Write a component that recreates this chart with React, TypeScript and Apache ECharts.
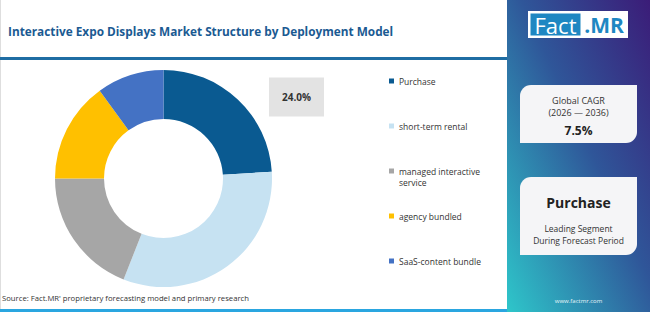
import React, { useEffect, useRef } from "react";
import * as echarts from "echarts";

// Deployment-model shares (%) of the interactive expo displays market
const segments = [
  "Purchase",
  "short-term rental",
  "managed interactive service",
  "agency bundled",
  "SaaS-content bundle",
];
const shares = [24.0, 32.0, 19.0, 15.0, 10.0];
const segmentColors = ["#0a5a91", "#c6e2f2", "#a6a6a6", "#ffc000", "#4472c4"];

// Legend text shown for each segment; the long name wraps below its marker
const legendText: Record<string, string> = {
  "managed interactive service": "\nmanaged interactive\nservice",
};
const legendCenters = [81, 126, 171, 216, 261];

const titleText = "Interactive Expo Displays Market Structure by Deployment Model";
const sourceText = "Source: Fact.MR' proprietary forecasting model and primary research";
const cagrLabel = ["Global CAGR", "(2026 \u2014 2036)"];
const cagrValue = "7.5%";
const leadingSegment = "Purchase";
const leadingCaption = ["Leading Segment", "During Forecast Period"];
const siteText = "www.factmr.com";

const FONT = "'Open Sans', 'Noto Sans', sans-serif";

export default function App() {
  const ref = useRef<HTMLDivElement>(null);

  useEffect(() => {
    if (!ref.current) return;
    const chart = echarts.init(ref.current, undefined, { renderer: "svg" });

    // one legend block per segment so each marker sits on its own row
    const legends = segments.map((name, i) => {
      const multi = legendText[name] !== undefined;
      return {
        left: 389,
        top: multi ? legendCenters[i] - 16.5 : legendCenters[i] - 5.5,
        orient: "vertical",
        padding: 0,
        itemWidth: 5,
        itemHeight: 5,
        icon: "rect",
        selectedMode: false,
        data: [name],
        formatter: (n: string) => legendText[n] ?? n,
        textStyle: {
          fontSize: 8.5,
          color: "#333",
          fontFamily: FONT,
          lineHeight: 11,
        },
      };
    });

    const cx = 578.5;

    chart.setOption({
      animation: false,
      legend: legends,
      series: [
        {
          type: "pie",
          center: [163.5, 178.5],
          radius: [59.5, 108.5],
          startAngle: 90,
          clockwise: true,
          avoidLabelOverlap: false,
          silent: true,
          emphasis: { disabled: true },
          data: segments.map((name, i) => ({
            name,
            value: shares[i],
            itemStyle: { color: segmentColors[i] },
            label: { show: i === 0 },
          })),
          label: {
            show: true,
            position: "outside",
            formatter: (p: any) => `${Number(p.value).toFixed(1)}%`,
            backgroundColor: "#e3e3e3",
            padding: [14, 13],
            fontSize: 10,
            lineHeight: 11,
            fontWeight: "bold",
            color: "#333",
            fontFamily: FONT,
          },
          labelLine: { show: false },
          labelLayout: () => ({ x: 296.5, y: 97, align: "center", verticalAlign: "middle" }),
        },
      ],
      graphic: [
        // frame lines
        { type: "rect", shape: { x: 0, y: 0, width: 1, height: 312 }, style: { fill: "#dedede" }, silent: true },
        { type: "rect", shape: { x: 0, y: 57, width: 507, height: 3 }, style: { fill: "#1f6da3" }, silent: true },
        { type: "rect", shape: { x: 0, y: 309, width: 507, height: 3 }, style: { fill: "#2aa6e0" }, silent: true },
        {
          type: "text",
          x: 8,
          y: 31,
          style: {
            text: titleText,
            fill: "#1b5a92",
            font: `bold 11.8px ${FONT}`,
            textVerticalAlign: "middle",
          },
        },
        {
          type: "text",
          x: 2,
          y: 298,
          style: {
            text: sourceText,
            fill: "#333",
            font: `7.7px ${FONT}`,
            textVerticalAlign: "middle",
          },
        },
        // side panel
        {
          type: "rect",
          shape: { x: 507, y: 0, width: 143, height: 312 },
          style: {
            fill: new echarts.graphic.LinearGradient(1, 0, 0, 1, [
              { offset: 0, color: "#3b1c78" },
              { offset: 0.45, color: "#2f5699" },
              { offset: 1, color: "#2ec6ca" },
            ]),
          },
          silent: true,
        },
        // logo
        { type: "rect", shape: { x: 528, y: 11, width: 100, height: 27 }, style: { fill: "#ffffff" } },
        { type: "rect", shape: { x: 530.5, y: 13.5, width: 50, height: 22 }, style: { fill: "#1e87c2" } },
        {
          type: "text",
          x: 555.5,
          y: 24.5,
          style: { text: "Fact", fill: "#ffffff", font: `22px ${FONT}`, textAlign: "center", textVerticalAlign: "middle" },
        },
        {
          type: "text",
          x: 604,
          y: 24.5,
          style: { text: ".MR", fill: "#1e87c2", font: `bold 21px ${FONT}`, textAlign: "center", textVerticalAlign: "middle" },
        },
        // CAGR card
        { type: "rect", shape: { x: 520, y: 85, width: 117, height: 58, r: [11, 0, 11, 0] }, style: { fill: "#f5f5f7" } },
        { type: "text", x: cx, y: 100, style: { text: cagrLabel[0], fill: "#333", font: `9px ${FONT}`, textAlign: "center", textVerticalAlign: "middle" } },
        { type: "text", x: cx, y: 112.5, style: { text: cagrLabel[1], fill: "#333", font: `9px ${FONT}`, textAlign: "center", textVerticalAlign: "middle" } },
        { type: "text", x: cx, y: 130.5, style: { text: cagrValue, fill: "#222", font: `bold 12px ${FONT}`, textAlign: "center", textVerticalAlign: "middle" } },
        // leading segment card
        { type: "rect", shape: { x: 520, y: 177, width: 117, height: 78, r: [11, 0, 11, 0] }, style: { fill: "#f5f5f7" } },
        { type: "text", x: cx, y: 202, style: { text: leadingSegment, fill: "#222", font: `bold 14px ${FONT}`, textAlign: "center", textVerticalAlign: "middle" } },
        { type: "text", x: cx, y: 228, style: { text: leadingCaption[0], fill: "#333", font: `8.5px ${FONT}`, textAlign: "center", textVerticalAlign: "middle" } },
        { type: "text", x: cx, y: 240.5, style: { text: leadingCaption[1], fill: "#333", font: `8.5px ${FONT}`, textAlign: "center", textVerticalAlign: "middle" } },
        { type: "text", x: cx, y: 300.5, style: { text: siteText, fill: "#e8f4f8", font: `6px ${FONT}`, textAlign: "center", textVerticalAlign: "middle" } },
      ],
    });

    return () => chart.dispose();
  }, []);

  return (
    <div
      ref={ref}
      style={{ position: "fixed", left: 0, top: 0, width: 650, height: 312, background: "#ffffff" }}
    />
  );
}
